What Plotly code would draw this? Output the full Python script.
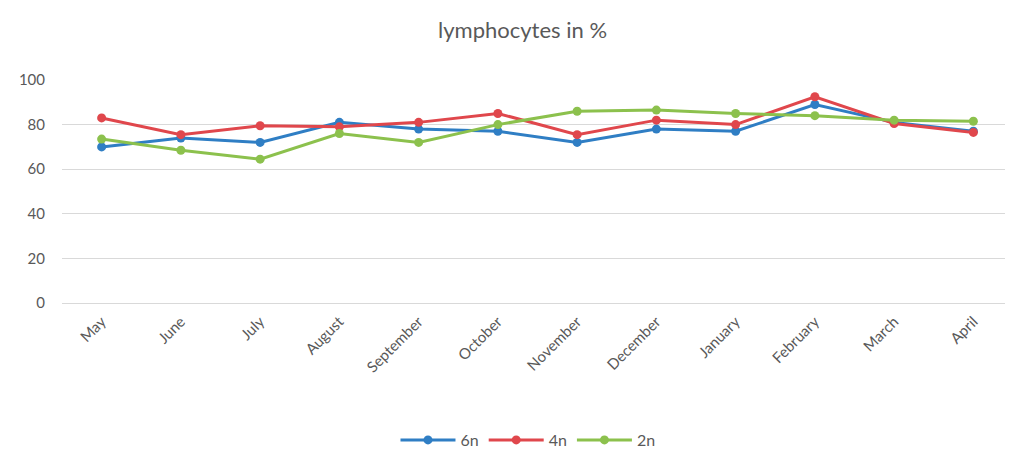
import plotly.graph_objects as go

months = ["May", "June", "July", "August", "September", "October", "November",
          "December", "January", "February", "March", "April"]
s6n = [70, 74, 72, 81, 78, 77, 72, 78, 77, 89, 81, 77]
s4n = [83, 75.5, 79.5, 79, 81, 85, 75.5, 82, 80, 92.5, 80.5, 76.5]
s2n = [73.5, 68.5, 64.5, 76, 72, 80, 86, 86.5, 85, 84, 82, 81.5]

series = [("6n", s6n, "#2f7ec4"), ("4n", s4n, "#e0474c"), ("2n", s2n, "#8cc14d")]

fig = go.Figure()
for name, vals, col in series:
    fig.add_trace(go.Scatter(
        x=months, y=vals, name=name, mode="lines+markers",
        line=dict(color=col, width=3), marker=dict(color=col, size=9),
    ))

fig.update_layout(
    width=1005, height=444,
    margin=dict(l=54, r=0, t=72, b=149, autoexpand=False),
    paper_bgcolor="white", plot_bgcolor="white",
    font=dict(family="Lato, Open Sans, sans-serif", color="#595959", size=14),
    title=dict(text="lymphocytes in %", x=0.512, xanchor="center", y=0.95, yanchor="middle",
               yref="container", font=dict(size=22, color="#595959")),
    legend=dict(orientation="h", x=0.49, xanchor="center", y=0.027, yanchor="middle",
                yref="container", font=dict(size=16, color="#595959"), itemwidth=55),
    showlegend=True,
)
fig.update_xaxes(tickangle=-45, showgrid=False, showline=False, ticks="", automargin=False,
                 range=[-0.5, len(months) - 0.5],
                 ticklabelstandoff=6, tickfont=dict(size=15, color="#595959"))
fig.update_yaxes(range=[0, 100], dtick=20, showgrid=True, gridcolor="#d9d9d9", gridwidth=1,
                 zeroline=True, zerolinecolor="#d9d9d9", zerolinewidth=1, automargin=False,
                 ticks="", ticklabelstandoff=16, tickfont=dict(size=15, color="#595959"))

fig.write_html("out.html")
